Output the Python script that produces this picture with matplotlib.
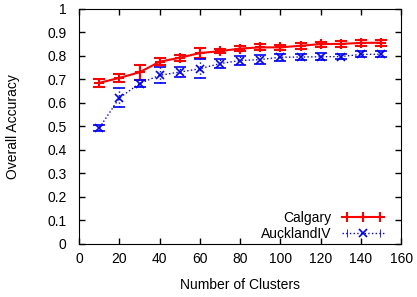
import matplotlib
matplotlib.use("Agg")
import matplotlib.pyplot as plt
from matplotlib.lines import Line2D
from matplotlib.legend_handler import HandlerLine2D, HandlerTuple

plt.rcParams["font.family"] = ["Liberation Sans", "DejaVu Sans"]
plt.rcParams["font.size"] = 10

clusters = [10, 20, 30, 40, 50, 60, 70, 80, 90, 100, 110, 120, 130, 140, 150]

calgary = [0.685, 0.706, 0.73, 0.775, 0.792, 0.812, 0.82, 0.831, 0.836,
           0.836, 0.843, 0.85, 0.851, 0.855, 0.856]
calgary_err = [0.016, 0.018, 0.033, 0.016, 0.013, 0.02, 0.01, 0.012, 0.013,
               0.011, 0.012, 0.011, 0.012, 0.014, 0.012]

auckland = [0.493, 0.621, 0.682, 0.717, 0.731, 0.745, 0.767, 0.78, 0.784,
            0.794, 0.795, 0.796, 0.797, 0.806, 0.807]
auckland_err = [0.013, 0.04, 0.014, 0.034, 0.02, 0.04, 0.018, 0.02, 0.018,
                0.015, 0.012, 0.015, 0.012, 0.013, 0.012]

RED, BLUE = "#ff0000", "#0000ff"

fig = plt.figure(figsize=(4.17, 2.97), dpi=100)
ax = fig.add_axes([0.19, 0.18, 0.772, 0.79])

ax.errorbar(clusters, calgary, yerr=calgary_err, color=RED, lw=1.5,
            marker="+", ms=7, mew=1.5, capsize=4.5, capthick=1.5,
            elinewidth=1.5)
eb = ax.errorbar(clusters, auckland, yerr=auckland_err, color=BLUE, lw=1,
                 ls=":", marker="x", ms=6, mew=1.2, capsize=4.5, capthick=0.6,
                 elinewidth=1)
for part in eb[2]:
    part.set_linestyle(":")

ax.set_xlim(0, 160)
ax.set_ylim(0, 1)
ax.set_xticks(range(0, 161, 20))
ax.set_yticks([i / 10 for i in range(11)])
ax.set_yticklabels(["0", "0.1", "0.2", "0.3", "0.4", "0.5", "0.6", "0.7",
                    "0.8", "0.9", "1"])
ax.tick_params(direction="in", top=True, right=True, length=4, width=1)
ax.tick_params(axis="y", pad=9)
ax.tick_params(axis="x", pad=6)
ax.set_xlabel("Number of Clusters", labelpad=9)
ax.set_ylabel("Overall Accuracy", labelpad=20)

# gnuplot-style legend samples: horizontal line, end caps, marker in middle
cal_line = Line2D([], [], color=RED, lw=1.5, marker="+", ms=7, mew=1.5)
cal_caps = Line2D([], [], color=RED, lw=0, marker="|", ms=7, mew=1.5)
auk_line = Line2D([], [], color=BLUE, lw=1, ls=":", marker="x", ms=6, mew=1.2)
auk_caps = Line2D([], [], color=BLUE, lw=0, marker="|", ms=6, mew=0.6)

ax.legend([(cal_line, cal_caps), (auk_line, auk_caps)],
          ["Calgary", "AucklandIV"],
          handler_map={tuple: HandlerTuple(ndivide=1, pad=0),
                       cal_caps: HandlerLine2D(numpoints=2),
                       auk_caps: HandlerLine2D(numpoints=2)},
          loc="lower right", bbox_to_anchor=(0.947, 0.012),
          frameon=False, markerfirst=False, numpoints=1,
          handlelength=3.0, borderaxespad=0, borderpad=0,
          labelspacing=0.15, handletextpad=0.8)

fig.savefig("out.png", dpi=100)
